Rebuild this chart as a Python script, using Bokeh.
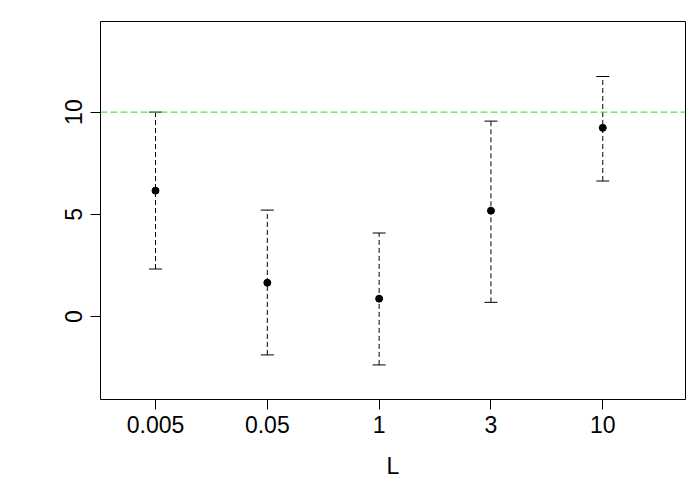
from bokeh.plotting import figure
from bokeh.models import ColumnDataSource, Whisker, TeeHead, Span, FixedTicker
from bokeh.embed import file_html
from bokeh.resources import INLINE

labels = ["0.005", "0.05", "1", "3", "10"]
xpos = [1, 2, 3, 4, 5]
est = [6.16, 1.66, 0.88, 5.18, 9.23]
lower = [2.33, -1.87, -2.36, 0.70, 6.63]
upper = [10.0, 5.21, 4.09, 9.56, 11.74]
ref_value = 10
yticks = [0, 5, 10]

src = ColumnDataSource(dict(x=xpos, y=est, lo=lower, hi=upper))

p = figure(width=692, height=492, output_backend="svg", toolbar_location=None,
           x_range=(0.508, 5.74), y_range=(-4.05, 14.43),
           min_border_left=100, min_border_right=7, min_border_top=21, min_border_bottom=93)
p.grid.visible = False
p.outline_line_color = "black"
p.outline_line_width = 1
p.background_fill_color = "white"
p.border_fill_color = "white"

FONT = "Liberation Sans"
for ax in (p.xaxis[0], p.yaxis[0]):
    ax.axis_line_color = None
    ax.major_tick_out = 10
    ax.major_tick_in = 0
    ax.minor_tick_line_color = None
    ax.major_tick_line_color = "black"
    ax.major_label_text_font = FONT
    ax.major_label_text_font_size = "23px"
    ax.major_label_text_color = "black"

p.xaxis.ticker = FixedTicker(ticks=xpos)
p.xaxis.major_label_overrides = {x: l for x, l in zip(xpos, labels)}
p.xaxis.major_label_standoff = 6
p.xaxis.axis_label = "L"
p.xaxis.axis_label_text_font = FONT
p.xaxis.axis_label_text_font_size = "23px"
p.xaxis.axis_label_text_font_style = "normal"
p.xaxis.axis_label_text_color = "black"
p.xaxis.axis_label_standoff = 17

p.yaxis.ticker = FixedTicker(ticks=yticks)
p.yaxis.major_label_orientation = "vertical"
p.yaxis.major_label_standoff = 8

w = Whisker(source=src, base="x", lower="lo", upper="hi",
            line_color="black", line_width=1, line_dash="5 3",
            upper_head=TeeHead(size=13, line_color="black", line_width=1),
            lower_head=TeeHead(size=13, line_color="black", line_width=1))
p.add_layout(w)

p.add_layout(Span(location=ref_value, dimension="width", line_color="#22E022",
                  line_width=1, line_dash="7 3"))

p.scatter("x", "y", source=src, size=7, color="black")

open("out.html", "w").write(file_html(p, INLINE))
